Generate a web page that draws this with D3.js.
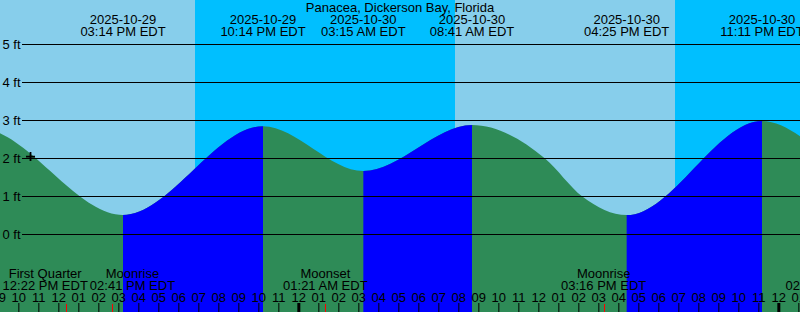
<!DOCTYPE html>
<html><head><meta charset="utf-8">
<script src="https://cdn.jsdelivr.net/npm/d3@7"></script>
<style>
html,body{margin:0;padding:0;background:#fff;}
svg{display:block;}
text{font-family:"Liberation Sans",Arial,sans-serif;font-size:13px;fill:#000;}
</style></head>
<body>
<svg id="chart" width="800" height="312"></svg>
<script>
// ---- data ----
const stationName = "Panacea, Dickerson Bay, Florida";
const viewStart = "2025-10-29 09:05";
const viewEnd = "2025-10-31 01:05";
// tide extremes (first two and last two lie outside the view)
const tideTimes = ["2025-10-29 02:20","2025-10-29 08:00","2025-10-29 15:14","2025-10-29 22:14","2025-10-30 03:15","2025-10-30 08:41","2025-10-30 16:25","2025-10-30 23:11","2025-10-31 05:45","2025-10-31 11:40"];
const tideHeights = [1.60, 2.80, 0.51, 2.85, 1.67, 2.88, 0.51, 2.99, 1.00, 2.90];
// extra curve readings between extremes
const readTimes = ["2025-10-30 12:20","2025-10-30 14:12"];
const readHeights = [2.00, 1.00];
// night intervals (sunset -> sunrise)
const nightStarts = ["2025-10-29 18:50","2025-10-30 18:50"];
const nightEnds = ["2025-10-30 07:50","2025-10-31 07:51"];
// moon events
const moonNames = ["First Quarter","Moonrise","Moonset","Moonrise","Moonset"];
const moonTimes = ["2025-10-29 12:22","2025-10-29 14:41","2025-10-30 01:21","2025-10-30 15:16","2025-10-31 02:28"];
// y axis levels (ft)
const levelTicks = [0,1,2,3,4,5];
// mark
const markTime = "2025-10-29 10:36";
const markLevel = 2.05;

// ---- setup ----
const W = 800, H = 312;
const parse = d3.timeParse("%Y-%m-%d %H:%M");
const fmtDate = d3.timeFormat("%Y-%m-%d");
const fmtTime = d => d3.timeFormat("%I:%M %p")(d) + " EDT";
const svg = d3.select("#chart");

const x = d3.scaleTime().domain([parse(viewStart), parse(viewEnd)]).range([0, W]);
const y = d3.scaleLinear().domain([0, 5]).range([234.5, 44.5]);

const tides = tideTimes.map((t, i) => ({t: parse(t), h: tideHeights[i]}));
const curvePts = tides.concat(readTimes.map((t, i) => ({t: parse(t), h: readHeights[i]})))
  .sort((a, b) => a.t - b.t);

// clip to view
const defs = svg.append("defs");
defs.append("clipPath").attr("id","view").append("rect").attr("x",0).attr("y",0).attr("width",W).attr("height",H);
const g = svg.append("g").attr("clip-path","url(#view)");

// background: day
g.append("rect").attr("x",0).attr("y",0).attr("width",W).attr("height",H).attr("fill","#87CEEB");
// nights
g.selectAll("rect.night").data(nightStarts.map((s,i)=>({s:parse(s), e:parse(nightEnds[i])})))
  .join("rect").attr("class","night")
  .attr("x", d => x(d.s)).attr("y",0)
  .attr("width", d => x(d.e) - x(d.s)).attr("height",H)
  .attr("fill","#00BFFF");

// tide area
const area = d3.area().x(d => x(d.t)).y0(H).y1(d => y(d.h)).curve(d3.curveMonotoneX);
g.append("path").datum(curvePts).attr("d", area).attr("fill","#2E8B57");

// rising intervals (low -> next high) in blue
const rising = [];
for (let i = 0; i < tides.length - 1; i++) {
  if (tides[i+1].h > tides[i].h) rising.push({s: tides[i].t, e: tides[i+1].t});
}
rising.forEach((r, i) => {
  defs.append("clipPath").attr("id","rise"+i).append("rect")
    .attr("x", x(r.s)).attr("y",0).attr("width", x(r.e) - x(r.s)).attr("height",H);
  g.append("path").datum(curvePts).attr("d", area).attr("fill","#0000FF").attr("clip-path","url(#rise"+i+")");
});

// level lines
g.selectAll("line.level").data(levelTicks).join("line").attr("class","level")
  .attr("x1",22).attr("x2",W).attr("y1",d=>y(d)).attr("y2",d=>y(d))
  .attr("stroke","#000").attr("stroke-width",1);
g.selectAll("text.level").data(levelTicks).join("text").attr("class","level")
  .attr("x",2.5).attr("y",d=>y(d)+4).text(d => d + " ft");

// mark (+)
const mx = Math.round(x(parse(markTime))) + 0.5, my = y(markLevel);
g.append("path").attr("d", `M${mx-4.5},${my}H${mx+4.5}M${mx},${my-4.5}V${my+4.5}`)
  .attr("stroke","#000").attr("stroke-width",1.8).attr("fill","none");

// top tide labels
const inView = tides.filter(d => d.t >= x.domain()[0] && d.t <= x.domain()[1]);
const tl = g.selectAll("g.tl").data(inView).join("g").attr("class","tl")
  .attr("transform", d => `translate(${x(d.t)},0)`);
tl.append("text").attr("y",24).attr("text-anchor","middle").text(d => fmtDate(d.t));
tl.append("text").attr("y",36).attr("text-anchor","middle").text(d => fmtTime(d.t));

// title
g.append("text").attr("x",W/2).attr("y",12).attr("text-anchor","middle").text(stationName);

// moon labels with simple collision spreading
const moons = moonNames.map((n,i)=>({name:n, t:parse(moonTimes[i])}));
const ml = g.selectAll("g.ml").data(moons).join("g").attr("class","ml");
ml.append("text").attr("y",278).attr("text-anchor","middle").text(d=>d.name);
ml.append("text").attr("y",289.5).attr("text-anchor","middle").text(d=>fmtTime(d.t));
ml.each(function(d){
  let w = 0;
  d3.select(this).selectAll("text").each(function(){ w = Math.max(w, this.getComputedTextLength()); });
  d.w = w; d.cx = x(d.t);
});
for (let i = 0; i < moons.length - 1; i++) {
  const a = moons[i], b = moons[i+1];
  const need = (a.w + b.w) / 2 + 2;
  if (b.cx - a.cx < need) {
    const mid = (a.cx + b.cx) / 2;
    a.cx = mid - need/2; b.cx = mid + need/2;
  }
}
ml.attr("transform", d => `translate(${d.cx},0)`);

// hour axis
const [d0, d1] = x.domain();
const hourTicks = d3.timeHour.range(d3.timeHour.floor(d0), d3.timeHour.offset(d1, 1));
const axis = d3.axisTop(x).tickValues(hourTicks).tickFormat(d3.timeFormat("%I")).tickSize(9).tickPadding(1.5);
const ax = g.append("g").attr("transform",`translate(0,${H})`).call(axis);
ax.select(".domain").remove();
ax.attr("font-size",null).attr("font-family",null);
ax.selectAll("text").style("font-size","13px");
ax.selectAll(".tick line").attr("stroke","#000")
  .attr("stroke-width", d => d.getHours() === 0 ? 3 : 1);

// moon ticks (red)
g.selectAll("line.moon").data(moons).join("line").attr("class","moon")
  .attr("x1", d => Math.round(x(d.t)) + 0.5).attr("x2", d => Math.round(x(d.t)) + 0.5)
  .attr("y1", 304).attr("y2", H).attr("stroke","#FF0000").attr("stroke-width",1);
</script>
</body></html>
